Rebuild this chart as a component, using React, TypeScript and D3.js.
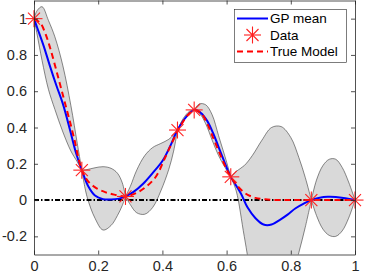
import React, { useEffect, useRef } from "react";
import * as d3 from "d3";

// tick values
const xTicks = [0, 0.2, 0.4, 0.6, 0.8, 1];
const yTicks = [-0.2, 0, 0.2, 0.4, 0.6, 0.8, 1];

// observed data (stars)
const dataX = [0, 0.149, 0.285, 0.447, 0.499, 0.613, 0.864, 1.0];
const dataY = [1.0, 0.165, 0.02, 0.386, 0.497, 0.128, 0.0, 0.0];

// confidence band
const bandX = [
  0, 0.01, 0.025, 0.045, 0.065, 0.09, 0.115, 0.135, 0.149,
  0.165, 0.19, 0.215, 0.24, 0.26, 0.275, 0.285,
  0.3, 0.32, 0.345, 0.37, 0.395, 0.42, 0.435, 0.447,
  0.465, 0.485, 0.499,
  0.515, 0.535, 0.555, 0.575, 0.595, 0.613,
  0.63, 0.655, 0.68, 0.71, 0.74, 0.77, 0.8, 0.825, 0.845, 0.864,
  0.88, 0.9, 0.92, 0.94, 0.96, 0.98, 1.0,
];
const bandUpper = [
  1.0, 1.045, 1.066, 0.99, 0.9, 0.74, 0.52, 0.31, 0.165,
  0.168, 0.178, 0.184, 0.175, 0.148, 0.095, 0.02,
  0.075, 0.165, 0.245, 0.29, 0.312, 0.335, 0.36, 0.386,
  0.45, 0.49, 0.497,
  0.53, 0.525, 0.47, 0.355, 0.24, 0.128,
  0.158, 0.19, 0.245, 0.33, 0.4, 0.405, 0.345, 0.235, 0.125, 0.0,
  0.11, 0.19, 0.225, 0.225, 0.18, 0.1, 0.0,
];
const bandLower = [
  1.0, 0.91, 0.77, 0.61, 0.5, 0.375, 0.27, 0.21, 0.165,
  0.02, -0.1, -0.165, -0.14, -0.085, -0.03, 0.02,
  -0.025, -0.07, -0.078, -0.04, 0.05, 0.17, 0.27, 0.386,
  0.435, 0.48, 0.497,
  0.48, 0.42, 0.33, 0.245, 0.18, 0.128,
  0.05, -0.2, -0.44, -0.6, -0.65, -0.6, -0.45, -0.29, -0.15, 0.0,
  -0.085, -0.16, -0.195, -0.2, -0.17, -0.1, 0.0,
];

// GP mean
const meanX = [
  0, 0.01, 0.03, 0.05, 0.07, 0.09, 0.112, 0.13, 0.149, 0.169, 0.19, 0.215,
  0.24, 0.265, 0.285, 0.31, 0.34, 0.37, 0.4, 0.425, 0.447, 0.475, 0.499,
  0.52, 0.54, 0.56, 0.58, 0.6, 0.613, 0.628, 0.645, 0.665, 0.69, 0.715,
  0.74, 0.765, 0.79, 0.815, 0.84, 0.864, 0.89, 0.915, 0.94, 0.97, 1.0,
];
const meanY = [
  1.0, 0.95, 0.85, 0.737, 0.63, 0.53, 0.388, 0.265, 0.165, 0.076, 0.025,
  0.005, 0.003, 0.008, 0.02, 0.045, 0.09, 0.15, 0.215, 0.3, 0.386, 0.46,
  0.497, 0.48, 0.435, 0.36, 0.27, 0.18, 0.128, 0.085, 0.035, -0.04, -0.1,
  -0.135, -0.135, -0.11, -0.08, -0.045, -0.02, 0.0, 0.013, 0.018, 0.017,
  0.01, 0.0,
];

// true model
const trueX = [
  0, 0.02, 0.035, 0.05, 0.065, 0.08, 0.095, 0.11, 0.125, 0.149, 0.17,
  0.195, 0.22, 0.25, 0.285, 0.32, 0.35, 0.38, 0.41, 0.435, 0.46, 0.48,
  0.5, 0.52, 0.54, 0.56, 0.58, 0.6, 0.613, 0.635, 0.66, 0.69, 0.72, 0.76,
  0.8, 0.9, 1.0,
];
const trueY = [
  1.0, 0.975, 0.92, 0.84, 0.745, 0.645, 0.545, 0.445, 0.34, 0.165, 0.1,
  0.065, 0.045, 0.03, 0.02, 0.04, 0.075, 0.13, 0.24, 0.335, 0.42, 0.47,
  0.495, 0.48, 0.42, 0.335, 0.25, 0.17, 0.128, 0.075, 0.035, 0.012, 0.004,
  0.0, 0.0, 0.0, 0.0,
];

const legendItems = ["GP mean", "Data", "True Model"];

const axisColor = "#262626";
const font = "'Liberation Sans', Arial, Helvetica, sans-serif";

function drawStar(g, cx, cy, r) {
  const s = g.append("g").attr("transform", `translate(${cx},${cy})`);
  [0, 45, 90, 135].forEach((a) => {
    const rad = (a * Math.PI) / 180;
    s.append("line")
      .attr("x1", -r * Math.cos(rad))
      .attr("y1", -r * Math.sin(rad))
      .attr("x2", r * Math.cos(rad))
      .attr("y2", r * Math.sin(rad))
      .attr("stroke", "#ff2020")
      .attr("stroke-width", 1.1);
  });
}

export default function App() {
  const ref = useRef<SVGSVGElement>(null);

  useEffect(() => {
    const svg = d3.select(ref.current);
    svg.selectAll("*").remove();

    const x = d3.scaleLinear().domain([0, 1]).range([34, 355]);
    const y = d3.scaleLinear().domain([-0.3, 1.1]).range([254.5, 0.5]);

    svg
      .append("defs")
      .append("clipPath")
      .attr("id", "plotclip")
      .append("rect")
      .attr("x", 34)
      .attr("y", 0.5)
      .attr("width", 321)
      .attr("height", 254);

    const plot = svg.append("g").attr("clip-path", "url(#plotclip)");

    // band, one piece between each pair of data points so the pinches stay sharp
    const band = bandX.map((bx, i) => ({ x: bx, lo: bandLower[i], hi: bandUpper[i] }));
    const area = d3
      .area<any>()
      .x((d) => x(d.x))
      .y0((d) => y(d.lo))
      .y1((d) => y(d.hi))
      .curve(d3.curveCatmullRom.alpha(0.5));
    for (let i = 0; i < dataX.length - 1; i++) {
      const seg = band.filter((d) => d.x >= dataX[i] - 1e-9 && d.x <= dataX[i + 1] + 1e-9);
      plot
        .append("path")
        .attr("d", area(seg))
        .attr("fill", "#d9d9d9")
        .attr("stroke", "#3a3a3a")
        .attr("stroke-width", 0.6);
    }

    // zero line
    plot
      .append("line")
      .attr("x1", x(0))
      .attr("x2", x(1))
      .attr("y1", y(0))
      .attr("y2", y(0))
      .attr("stroke", "#000")
      .attr("stroke-width", 2)
      .attr("stroke-dasharray", "5,2,1.5,2");

    const line = d3
      .line<[number, number]>()
      .x((d) => x(d[0]))
      .y((d) => y(d[1]))
      .curve(d3.curveCatmullRom.alpha(0.5));

    plot
      .append("path")
      .attr("d", line(meanX.map((v, i) => [v, meanY[i]])))
      .attr("fill", "none")
      .attr("stroke", "#0000ff")
      .attr("stroke-width", 2);

    plot
      .append("path")
      .attr("d", line(trueX.map((v, i) => [v, trueY[i]])))
      .attr("fill", "none")
      .attr("stroke", "#ff0000")
      .attr("stroke-width", 2)
      .attr("stroke-dasharray", "6,4");

    const stars = svg.append("g");
    dataX.forEach((dx, i) => drawStar(stars, x(dx), y(dataY[i]), 8.5));

    // axes with inward ticks, box on
    const fmt = (d) => String(d);
    const styleAxis = (g, fontSize) => {
      g.attr("color", axisColor).attr("font-family", font).attr("font-size", fontSize);
      g.select(".domain").attr("stroke-width", 0.8);
      g.selectAll(".tick line").attr("stroke-width", 0.8);
    };

    svg
      .append("g")
      .attr("transform", "translate(0,254.5)")
      .call(d3.axisBottom(x).tickValues(xTicks).tickSizeInner(-4).tickSizeOuter(0).tickPadding(6).tickFormat(fmt))
      .call((g) => styleAxis(g, 14.5));
    svg
      .append("g")
      .attr("transform", "translate(0,0.5)")
      .call(d3.axisTop(x).tickValues(xTicks).tickSizeInner(-4).tickSizeOuter(0).tickFormat(() => ""))
      .call((g) => styleAxis(g, 14.5));
    svg
      .append("g")
      .attr("transform", "translate(34,0)")
      .call(d3.axisLeft(y).tickValues(yTicks).tickSizeInner(-4).tickSizeOuter(0).tickPadding(7).tickFormat(fmt))
      .call((g) => styleAxis(g, 14.5));
    svg
      .append("g")
      .attr("transform", "translate(355,0)")
      .call(d3.axisRight(y).tickValues(yTicks).tickSizeInner(-4).tickSizeOuter(0).tickFormat(() => ""))
      .call((g) => styleAxis(g, 14.5));

    // legend
    const lg = svg.append("g");
    lg.append("rect")
      .attr("x", 234.5)
      .attr("y", 9.5)
      .attr("width", 112)
      .attr("height", 53)
      .attr("fill", "#fff")
      .attr("stroke", axisColor)
      .attr("stroke-width", 0.6);
    const rowY = [18.5, 35, 51.5];
    lg.append("line")
      .attr("x1", 237).attr("x2", 268).attr("y1", rowY[0]).attr("y2", rowY[0])
      .attr("stroke", "#0000ff").attr("stroke-width", 2);
    drawStar(lg, 252.5, rowY[1], 8.5);
    lg.append("line")
      .attr("x1", 237).attr("x2", 268).attr("y1", rowY[2]).attr("y2", rowY[2])
      .attr("stroke", "#ff0000").attr("stroke-width", 2).attr("stroke-dasharray", "6,4");
    legendItems.forEach((t, i) => {
      lg.append("text")
        .attr("x", 270)
        .attr("y", rowY[i])
        .attr("dy", "0.35em")
        .attr("font-family", font)
        .attr("font-size", 13.5)
        .attr("fill", "#000")
        .text(t);
    });

    return () => {
      svg.selectAll("*").remove();
    };
  }, []);

  return (
    <div style={{ position: "absolute", left: 0, top: 0, background: "#fff" }}>
      <svg ref={ref} width={367} height={274} style={{ display: "block" }} />
    </div>
  );
}
